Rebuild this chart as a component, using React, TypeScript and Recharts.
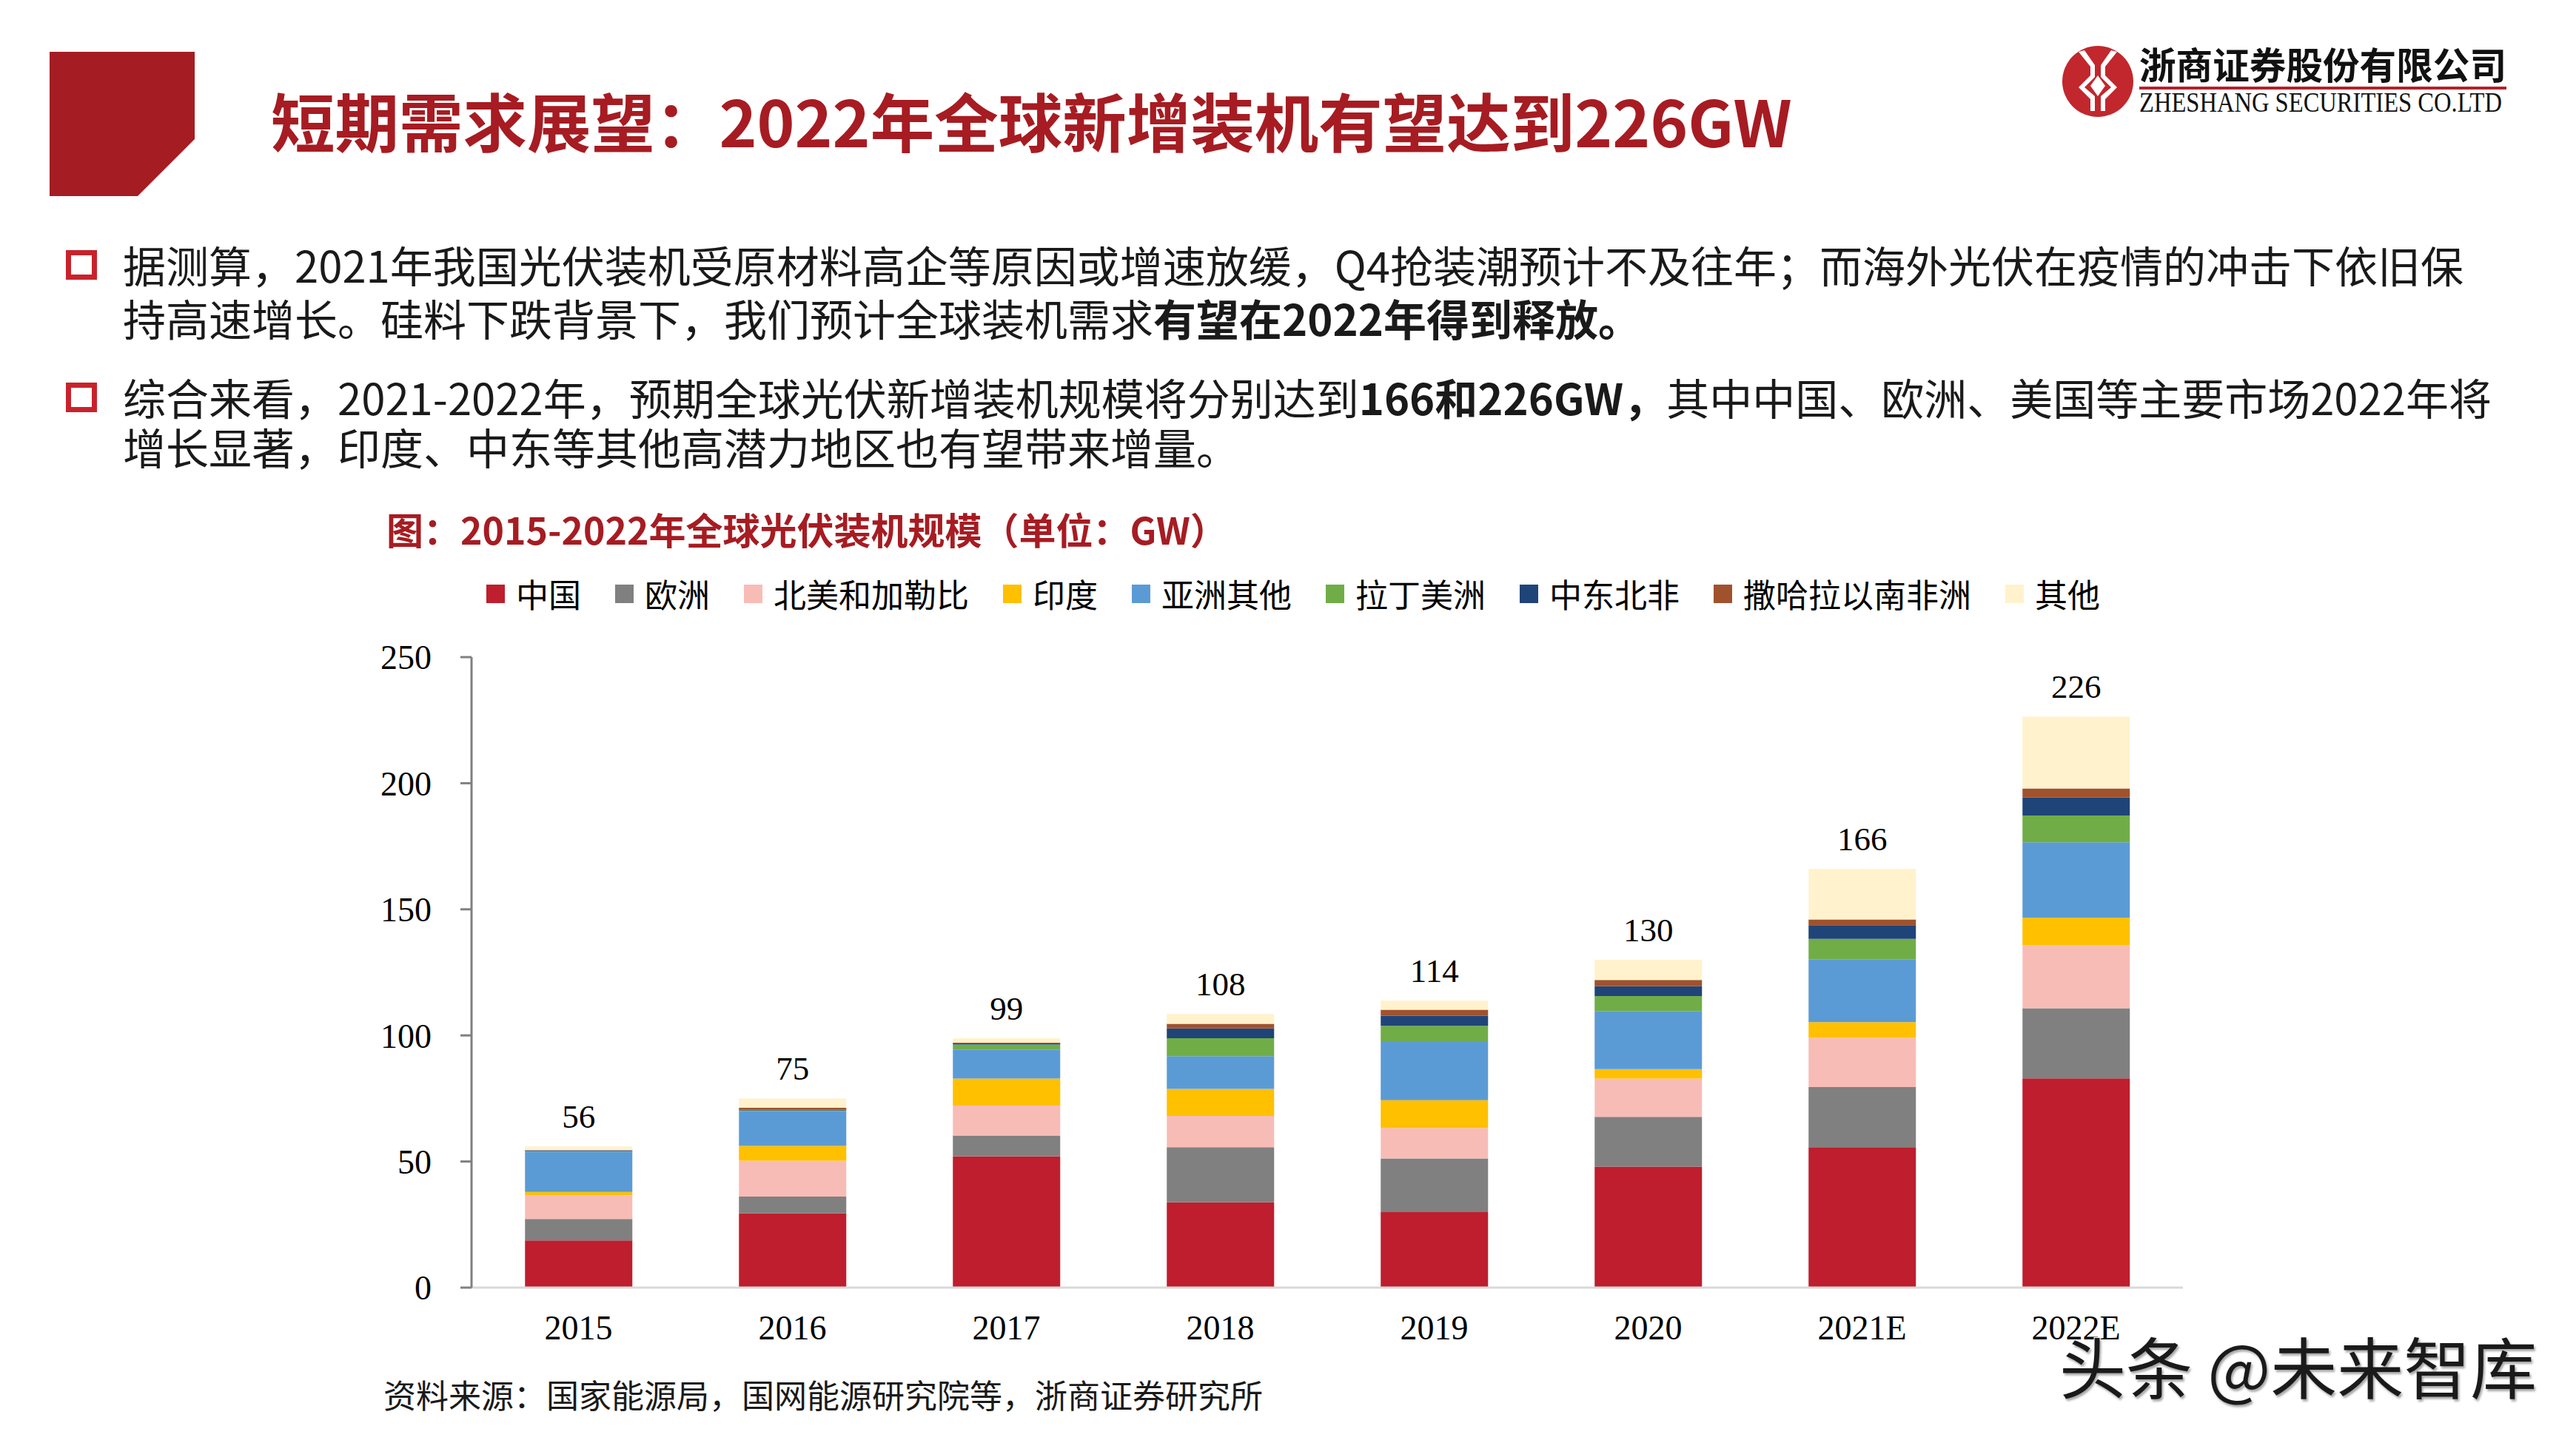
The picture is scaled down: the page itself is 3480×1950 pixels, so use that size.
import React from 'react';
import { BarChart, Bar, XAxis, YAxis, Legend, LabelList } from 'recharts';

const categories = ['2015', '2016', '2017', '2018', '2019', '2020', '2021E', '2022E'];
const china = [18.7, 29.5, 52.1, 33.8, 29.9, 48.0, 55.7, 83.0];
const europe = [8.5, 6.6, 8.2, 21.9, 21.3, 19.7, 23.8, 27.8];
const northAmerica = [9.4, 14.2, 11.9, 12.4, 12.1, 15.2, 19.5, 24.9];
const india = [1.3, 5.9, 10.7, 10.7, 11.0, 3.7, 6.3, 11.0];
const asiaOther = [16.0, 13.7, 11.5, 13.0, 23.1, 23.1, 24.9, 29.9];
const latinAmerica = [0.2, 0.3, 2.0, 7.1, 6.4, 5.9, 8.1, 10.6];
const mena = [0.3, 0.4, 0.5, 3.9, 4.0, 3.9, 5.4, 7.1];
const subSaharan = [0.1, 0.7, 0.2, 1.8, 2.4, 2.5, 2.3, 3.6];
const others = [1.5, 3.7, 1.8, 3.9, 3.6, 8.0, 20.0, 28.5];
const totals = [56, 75, 99, 108, 114, 130, 166, 226];
const yTicks = [0, 50, 100, 150, 200, 250];

const seriesNames = ['中国', '欧洲', '北美和加勒比', '印度', '亚洲其他', '拉丁美洲', '中东北非', '撒哈拉以南非洲', '其他'];
const seriesKeys = ['china', 'europe', 'northAmerica', 'india', 'asiaOther', 'latinAmerica', 'mena', 'subSaharan', 'others'];
const seriesColors = ['#BE1E2D', '#808080', '#F8BCB6', '#FFC000', '#5B9BD5', '#70AD47', '#1F4478', '#A0522D', '#FFF2CC'];
const seriesValues = [china, europe, northAmerica, india, asiaOther, latinAmerica, mena, subSaharan, others];

const data = categories.map((c, i) => {
  const row: Record<string, any> = { year: c, total: totals[i] };
  seriesKeys.forEach((k, j) => {
    row[k] = seriesValues[j][i];
  });
  return row;
});

const RED = '#A61C22';
const TEXT = '#1A1A1A';

const Line = ({ x, cy, fs, color = TEXT, weight = 400, children, family }: any) => (
  <div
    style={{
      position: 'absolute',
      left: x,
      top: cy - fs * 0.55,
      fontSize: fs,
      lineHeight: `${fs}px`,
      whiteSpace: 'nowrap',
      color,
      fontWeight: weight,
      fontFamily: family || '"Noto Sans CJK SC", "Noto Sans", sans-serif',
    }}
  >
    {children}
  </div>
);

const Bullet = ({ x, y }: any) => (
  <div
    style={{
      position: 'absolute',
      left: x,
      top: y,
      width: 42,
      height: 40,
      border: '7px solid #C8232C',
      boxSizing: 'border-box',
    }}
  />
);

const LegendContent = () => (
  <div style={{ display: 'flex', alignItems: 'center', height: 60, whiteSpace: 'nowrap' }}>
    {seriesNames.map((n, i) => (
      <div key={n} style={{ display: 'flex', alignItems: 'center', marginRight: 46 }}>
        <div style={{ width: 25, height: 25, background: seriesColors[i], marginRight: 15 }} />
        <span style={{ fontSize: 44, lineHeight: '44px', color: '#000', fontFamily: '"Noto Sans CJK SC", sans-serif' }}>{n}</span>
      </div>
    ))}
  </div>
);

export default function App() {
  return (
    <div
      style={{
        position: 'absolute',
        left: 0,
        top: 0,
        width: 3480,
        height: 1950,
        background: '#fff',
        overflow: 'hidden',
        fontFamily: '"Noto Sans CJK SC", sans-serif',
      }}
    >
      <svg width={3480} height={300} style={{ position: 'absolute', left: 0, top: 0 }}>
        <polygon points="67,70 263,70 263,188 186,265 67,265" fill="#A51C23" />
        <g transform="translate(2834,110)">
          <circle r={48} fill="#C1272D" />
          <path d="M-26,-40 L-10,-20 L-10,-8 L-26,8 L-10,24 L-10,40 L-4,40 L-4,20 L-18,8 L-4,-6 L-4,-22 L-18,-42 Z" fill="#fff" />
          <path d="M26,-40 L10,-20 L10,-8 L26,8 L10,24 L10,40 L4,40 L4,20 L18,8 L4,-6 L4,-22 L18,-42 Z" fill="#fff" />
          <path d="M0,-8 L10,6 L0,20 L-10,6 Z" fill="#fff" />
        </g>
        <text x={2890} y={107} fontSize={50} fontWeight={700} fill="#111" textLength={496} lengthAdjust="spacingAndGlyphs" fontFamily='"Noto Sans CJK SC", sans-serif'>
          浙商证券股份有限公司
        </text>
        <rect x={2890} y={117} width={496} height={4} fill="#B0222A" />
        <text x={2890} y={151} fontSize={38} fill="#111" textLength={490} lengthAdjust="spacingAndGlyphs" fontFamily='"Liberation Serif", "Times New Roman", serif'>
          ZHESHANG SECURITIES CO.LTD
        </text>
      </svg>

      <Line x={366} cy={167} fs={86.5} color={RED} weight={700}>
        短期需求展望：2022年全球新增装机有望达到226GW
      </Line>

      <Bullet x={89} y={338} />
      <Line x={166} cy={360} fs={58}>
        据测算，2021年我国光伏装机受原材料高企等原因或增速放缓，Q4抢装潮预计不及往年；而海外光伏在疫情的冲击下依旧保
      </Line>
      <Line x={166} cy={432} fs={58}>
        持高速增长。硅料下跌背景下，我们预计全球装机需求<b>有望在2022年得到释放。</b>
      </Line>

      <Bullet x={89} y={517} />
      <Line x={166} cy={539} fs={58}>
        综合来看，2021-2022年，预期全球光伏新增装机规模将分别达到<b>166和226GW，</b>其中中国、欧洲、美国等主要市场2022年将
      </Line>
      <Line x={166} cy={606} fs={58}>
        增长显著，印度、中东等其他高潜力地区也有望带来增量。
      </Line>

      <Line x={522} cy={716} fs={50} color={RED} weight={700}>
        图：2015-2022年全球光伏装机规模（单位：GW）
      </Line>

      <div style={{ position: 'absolute', left: 0, top: 0 }}>
        <BarChart
          width={3480}
          height={1950}
          data={data}
          margin={{ top: 888, right: 531, bottom: 110, left: 437 }}
          barCategoryGap="25%"
        >
          <XAxis
            dataKey="year"
            height={100}
            tickLine={false}
            axisLine={{ stroke: '#D9D9D9', strokeWidth: 3 }}
            tickMargin={31}
            tick={{ fontSize: 46, fill: '#000', fontFamily: '"Liberation Serif", "Times New Roman", serif' }}
            interval={0}
          />
          <YAxis
            width={200}
            domain={[0, 250]}
            ticks={yTicks}
            interval={0}
            tickSize={15}
            tickMargin={39}
            axisLine={{ stroke: '#808080', strokeWidth: 3 }}
            tickLine={{ stroke: '#808080', strokeWidth: 3 }}
            tick={{ fontSize: 46, fill: '#000', fontFamily: '"Liberation Serif", "Times New Roman", serif' }}
          />
          <Legend
            layout="vertical"
            align="center"
            verticalAlign="middle"
            content={<LegendContent />}
            wrapperStyle={{ left: 657, top: 772, width: 2650, height: 60 }}
          />
          {seriesKeys.map((k, i) => (
            <Bar key={k} dataKey={k} name={seriesNames[i]} stackId="a" fill={seriesColors[i]} isAnimationActive={false}>
              {i === seriesKeys.length - 1 ? (
                <LabelList
                  dataKey="total"
                  position="top"
                  offset={25}
                  fill="#000"
                  fontSize={45}
                  fontFamily='"Liberation Serif", "Times New Roman", serif'
                />
              ) : null}
            </Bar>
          ))}
        </BarChart>
      </div>

      <Line x={518} cy={1886} fs={44}>
        资料来源：国家能源局，国网能源研究院等，浙商证券研究所
      </Line>

      <Line x={2782} cy={1848} fs={90} color="#1a1a1a">
        <span style={{ textShadow: '2px 3px 3px rgba(0,0,0,0.35), -1px -1px 0 #fff' }}>头条 @未来智库</span>
      </Line>
    </div>
  );
}
